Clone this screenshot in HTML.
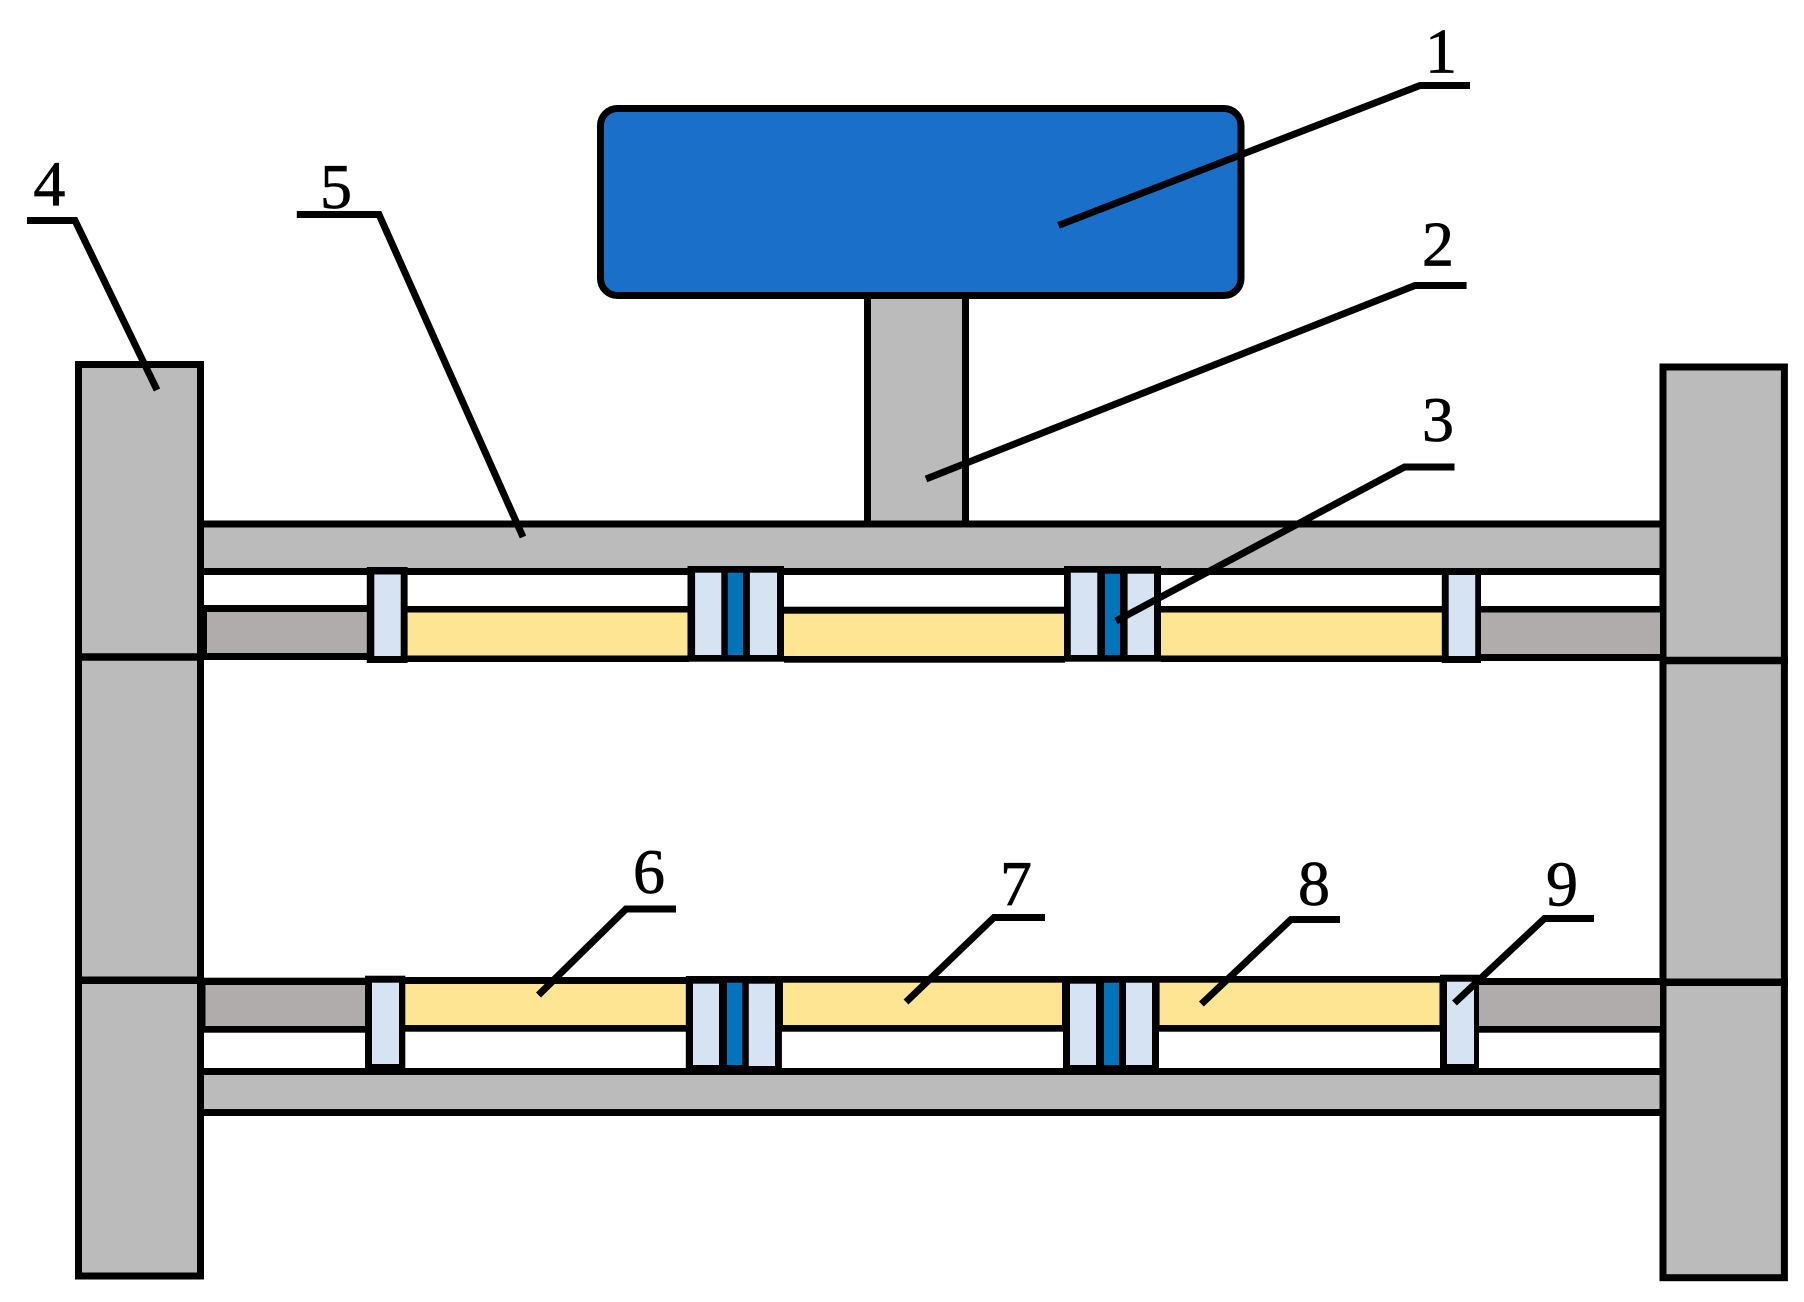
<!DOCTYPE html>
<html><head><meta charset="utf-8"><style>html,body{margin:0;padding:0;background:#fff}svg{display:block}text{font-family:"Liberation Serif",serif;font-size:64px;fill:#000;stroke:#000;stroke-width:.7px;text-anchor:middle}</style></head><body>
<svg width="1804" height="1302" viewBox="0 0 1804 1302" xmlns="http://www.w3.org/2000/svg">
<rect width="1804" height="1302" fill="#fff"/>
<!-- stem -->
<rect x="867.5" y="295" width="98" height="229" fill="#bbb" stroke="#000" stroke-width="7"/>
<!-- bars -->
<rect x="200" y="524" width="1464" height="47.5" fill="#bbb" stroke="#000" stroke-width="7"/>
<rect x="200" y="1071.5" width="1464" height="41" fill="#bbb" stroke="#000" stroke-width="7"/>
<!-- head -->
<rect x="600.500" y="108.500" width="640.500" height="187" rx="17" ry="17" fill="#1a70c8" stroke="#000" stroke-width="7"/>
<!-- columns -->
<rect x="78.500" y="364.500" width="122" height="911.500" fill="#bbb" stroke="#000" stroke-width="7"/>
<rect x="1663" y="367" width="121.400" height="910.700" fill="#bbb" stroke="#000" stroke-width="7"/>
<path d="M75 657H204M75 980.300H204" stroke="#000" stroke-width="7.500" fill="none"/>
<path d="M1660 660.500H1788M1660 982.300H1788" stroke="#000" stroke-width="7.500" fill="none"/>

<!-- top row rods -->
<rect x="204" y="605" width="163" height="55" fill="#000"/>
<rect x="207" y="612" width="160" height="41" fill="#b0acab"/>
<rect x="407" y="606" width="282" height="56" fill="#000"/>
<rect x="407" y="612.500" width="282" height="43" fill="#fee594"/>
<rect x="784" y="606.700" width="281" height="56" fill="#000"/>
<rect x="784" y="613.700" width="280" height="42.300" fill="#fee594"/>
<rect x="1161" y="606" width="281" height="56" fill="#000"/>
<rect x="1161" y="612.500" width="281" height="43" fill="#fee594"/>
<rect x="1481" y="606" width="185" height="55" fill="#000"/>
<rect x="1481" y="612.500" width="179" height="41.500" fill="#b0acab"/>
<!-- top row clamps -->
<rect x="366.800" y="567" width="40.800" height="96" fill="#000"/>
<rect x="374.300" y="574.500" width="26.400" height="81.500" fill="#d6e3f3"/>
<rect x="687.500" y="566" width="96.500" height="95.700" fill="#000"/>
<rect x="695.100" y="572.700" width="26.200" height="82.300" fill="#d6e3f3"/>
<rect x="727.800" y="572.700" width="15.200" height="82.300" fill="#0073b9"/>
<rect x="749.900" y="572.700" width="27.100" height="82.300" fill="#d6e3f3"/>
<rect x="1064" y="566" width="97" height="95.700" fill="#000"/>
<rect x="1070.800" y="572.700" width="26.500" height="82.300" fill="#d6e3f3"/>
<rect x="1105" y="573.700" width="15" height="81.300" fill="#0073b9"/>
<rect x="1127.600" y="573.700" width="26.400" height="81.300" fill="#d6e3f3"/>
<rect x="1441.800" y="568" width="39.200" height="95" fill="#000"/>
<rect x="1448.700" y="575" width="26.500" height="81" fill="#d6e3f3"/>

<!-- bottom row rods -->
<rect x="204" y="977.700" width="163" height="55" fill="#000"/>
<rect x="205.500" y="985" width="160" height="41" fill="#b0acab"/>
<rect x="405" y="977" width="282" height="54.700" fill="#000"/>
<rect x="405" y="984" width="282" height="41" fill="#fee594"/>
<rect x="781" y="976" width="283" height="55.700" fill="#000"/>
<rect x="783" y="982.700" width="279" height="42.300" fill="#fee594"/>
<rect x="1158" y="976" width="283" height="55.700" fill="#000"/>
<rect x="1159.600" y="982.700" width="279.900" height="42.300" fill="#fee594"/>
<rect x="1479" y="978" width="181" height="54.700" fill="#000"/>
<rect x="1479" y="985" width="181" height="41" fill="#b0acab"/>
<!-- bottom row clamps -->
<rect x="365" y="975.700" width="40.300" height="94" fill="#000"/>
<rect x="372" y="982.700" width="27" height="81.300" fill="#d6e3f3"/>
<rect x="685.800" y="976" width="96.100" height="94" fill="#000"/>
<rect x="693" y="983.700" width="26" height="81.300" fill="#d6e3f3"/>
<rect x="727" y="982.700" width="15.300" height="82.300" fill="#0073b9"/>
<rect x="748.800" y="983.700" width="26.200" height="82.300" fill="#d6e3f3"/>
<rect x="1063" y="976" width="96" height="94" fill="#000"/>
<rect x="1070" y="983.700" width="26" height="81.300" fill="#d6e3f3"/>
<rect x="1104" y="982.700" width="15" height="82.300" fill="#0073b9"/>
<rect x="1126" y="982.700" width="26" height="82.300" fill="#d6e3f3"/>
<rect x="1440" y="974.700" width="39" height="95" fill="#000"/>
<rect x="1447" y="981.700" width="27" height="82.300" fill="#d6e3f3"/>

<!-- leaders -->
<g fill="none" stroke="#000" stroke-width="7" stroke-linejoin="miter">
<path d="M1470 85.500H1420L1058.500 225.400"/>
<path d="M1466.600 285.500H1415L926 479"/>
<path d="M1454.500 467H1404.500L1116 621"/>
<path d="M27 220.500H75L157 390"/>
<path d="M296.800 214.500H379L523 537"/>
<path d="M676 909H626L538.500 995"/>
<path d="M1045 917.500H994L906 1002"/>
<path d="M1340 919.500H1291L1201.400 1004"/>
<path d="M1594 918.500H1544.500L1454.500 1003"/>
</g>
<!-- labels -->
<text x="1441" y="72.700">1</text>
<text x="1438" y="265.500">2</text>
<text x="1438" y="441">3</text>
<text x="49.400" y="205">4</text>
<text x="336" y="208">5</text>
<text x="649" y="893">6</text>
<text x="1016" y="905">7</text>
<text x="1314" y="905">8</text>
<text x="1562" y="905.500">9</text>
</svg>
</body></html>
